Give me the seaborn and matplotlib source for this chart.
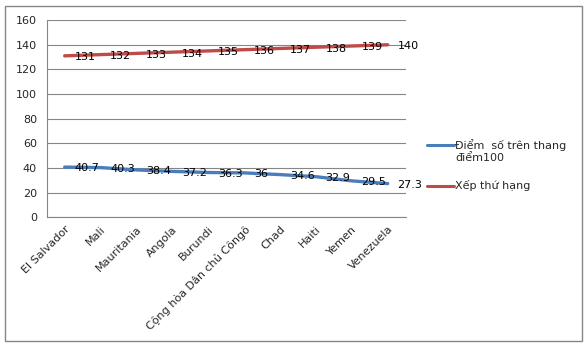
import matplotlib
matplotlib.use("Agg")
import matplotlib.pyplot as plt
from matplotlib.patches import Rectangle
from matplotlib.lines import Line2D
import seaborn as sns
import pandas as pd

countries = ["El Salvador", "Mali", "Mauritania", "Angola", "Burundi",
             "Cộng hòa Dân chủ Côngô", "Chad", "Haiti", "Yemen", "Venezuela"]
score = [40.7, 40.3, 38.4, 37.2, 36.3, 36, 34.6, 32.9, 29.5, 27.3]
rank = [131, 132, 133, 134, 135, 136, 137, 138, 139, 140]
series_names = ["Điểm  số trên thang\nđiểm100", "Xếp thứ hạng"]
y_ticks = [0, 20, 40, 60, 80, 100, 120, 140, 160]

colors = ["#4A7EBB", "#BE4B48"]
FS = 8

sns.set_theme(style="white")
plt.rcParams["font.family"] = ["DejaVu Sans"]

df = pd.DataFrame({
    "x": list(range(len(countries))) * 2,
    "value": score + rank,
    "series": [series_names[0]] * len(score) + [series_names[1]] * len(rank),
})

W, H = 587, 347
fig = plt.figure(figsize=(W / 100, H / 100), dpi=100)
ax = fig.add_axes([0.0796, 0.374, 0.6115, 0.568])

sns.lineplot(data=df, x="x", y="value", hue="series", palette=colors,
             linewidth=2.4, ax=ax, legend=False, sort=False)

ax.set_xlim(-0.5, len(countries) - 0.5)
ax.set_ylim(0, 160)
ax.set_yticks(y_ticks)
ax.set_yticklabels([str(v) for v in y_ticks], fontsize=FS)
ax.set_xticks(range(len(countries)))
ax.set_xticklabels(countries, rotation=45, ha="right", va="top",
                   rotation_mode="anchor", fontsize=FS)
ax.set_xlabel("")
ax.set_ylabel("")

# category boundary ticks on the x axis
ax.set_xticks([i - 0.5 for i in range(len(countries) + 1)], minor=True)
ax.tick_params(axis="x", which="major", length=0, pad=5)
ax.tick_params(axis="x", which="minor", length=4, width=0.8, color="#868686", direction="out")
ax.tick_params(axis="y", length=4, width=0.8, color="#868686", direction="out", pad=3)

ax.yaxis.grid(True, color="#868686", linewidth=0.8)
ax.xaxis.grid(False)
for s in ["top", "right"]:
    ax.spines[s].set_visible(False)
for s in ["left", "bottom"]:
    ax.spines[s].set_color("#868686")
    ax.spines[s].set_linewidth(0.8)
ax.set_axisbelow(True)

# value labels to the right of each point
for vals in (score, rank):
    for i, v in enumerate(vals):
        ax.annotate(f"{v:g}", (i, v), xytext=(7, -1), textcoords="offset points",
                    ha="left", va="center", fontsize=FS, color="black",
                    annotation_clip=False)

# legend: marker line aligned with the first line of each entry
legend_rows = [145, 186]
for c, name, yp in zip(colors, series_names, legend_rows):
    yf = 1 - yp / H
    fig.add_artist(Line2D([427 / W, 454 / W], [yf, yf], color=c, linewidth=2.2,
                          transform=fig.transFigure))
    fig.text(455 / W, yf + 6 / H, name, fontsize=FS, ha="left", va="top",
             linespacing=1.25)

fig.patches.append(Rectangle((5 / W, 6 / H), 577 / W, 335 / H,
                             transform=fig.transFigure, fill=False,
                             edgecolor="#868686", linewidth=1.0))

fig.savefig("out.png", dpi=100)
